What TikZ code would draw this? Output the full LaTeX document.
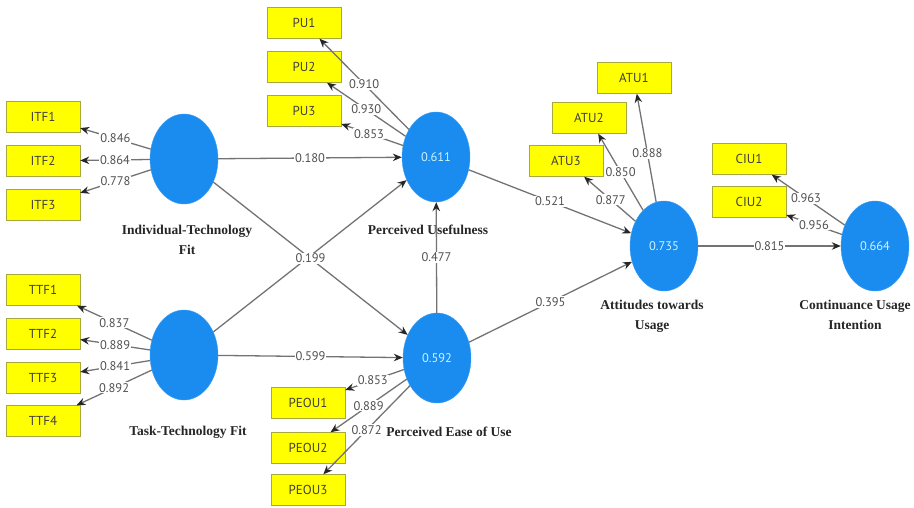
\documentclass[tikz,border=0pt]{standalone}
\usepackage{fontspec}
\setmainfont{Liberation Serif}
\newfontfamily\numfont{PT Sans}
\usetikzlibrary{arrows.meta,shapes.geometric}
\definecolor{lvblue}{HTML}{1A8CF0}
\definecolor{lvtext}{HTML}{CFF3FF}
\definecolor{mvyellow}{HTML}{FFFF00}
\definecolor{mvborder}{HTML}{A8A840}
\definecolor{pathgray}{HTML}{737373}
\definecolor{numgray}{HTML}{505050}
\tikzset{
    >={Stealth[length=9pt,width=7.5pt,color=black!85]},
    latent/.style={ellipse,fill=lvblue,draw=lvblue!85!white,minimum width=68pt,minimum height=90pt,
        inner sep=0pt,font=\numfont\fontsize{12.5}{13}\selectfont,text=lvtext},
    indicator/.style={rectangle,fill=mvyellow,draw=mvborder,minimum width=74pt,minimum height=31pt,
        inner sep=0pt,font=\numfont\fontsize{13}{14}\selectfont,text=black!75},
    construct/.style={font=\bfseries\fontsize{13.5}{20}\selectfont,align=center,text=black!85},
    link/.style={draw=pathgray,line width=1.3pt,->},
    coef/.style={fill=white,inner sep=1pt,font=\numfont\fontsize{12.5}{13}\selectfont,text=numgray}
}
\begin{document}
\begin{tikzpicture}[x=1pt,y=-1pt]
    \useasboundingbox (0,0) rectangle (914,507);
    % Latent variables
    \node[latent] (itf) at (184,159) {};
    \node[latent] (ttf) at (184,355) {};
    \node[latent] (pu) at (436,157) {0.611};
    \node[latent] (peou) at (437,358) {0.592};
    \node[latent] (atu) at (664,246) {0.735};
    \node[latent] (ciu) at (875,246) {0.664};

    % Construct names
    \node[construct] (itfname) at (187,240) {Individual-Technology\\Fit};
    \node[construct] (ttfname) at (188,432) {Task-Technology Fit};
    \node[construct] (puname) at (428,230) {Perceived Usefulness};
    \node[construct] (peouname) at (449,432) {Perceived Ease of Use};
    \node[construct] (atuname) at (652,316) {Attitudes towards\\Usage};
    \node[construct] (ciuname) at (855,315) {Continuance Usage\\Intention};

    % Indicators
    \node[indicator] (itf1) at (43,117) {ITF1};
    \node[indicator] (itf2) at (43,161) {ITF2};
    \node[indicator] (itf3) at (43,205) {ITF3};
    \node[indicator] (ttf1) at (43,290) {TTF1};
    \node[indicator] (ttf2) at (43,334) {TTF2};
    \node[indicator] (ttf3) at (43,378) {TTF3};
    \node[indicator] (ttf4) at (43,421) {TTF4};
    \node[indicator] (pu1) at (304,23) {PU1};
    \node[indicator] (pu2) at (304,67) {PU2};
    \node[indicator] (pu3) at (304,111) {PU3};
    \node[indicator] (peou1) at (308,403) {PEOU1};
    \node[indicator] (peou2) at (308,448) {PEOU2};
    \node[indicator] (peou3) at (308,490) {PEOU3};
    \node[indicator] (atu1) at (634,78) {ATU1};
    \node[indicator] (atu2) at (589,118) {ATU2};
    \node[indicator] (atu3) at (566,161) {ATU3};
    \node[indicator] (ciu1) at (749,159) {CIU1};
    \node[indicator] (ciu2) at (749,202) {CIU2};

    % Outer loadings
    \draw[link] (itf) -- node[coef] {0.846} (itf1);
    \draw[link] (itf) -- node[coef] {0.864} (itf2);
    \draw[link] (itf) -- node[coef] {0.778} (itf3);
    \draw[link] (ttf) -- node[coef] {0.837} (ttf1);
    \draw[link] (ttf) -- node[coef] {0.889} (ttf2);
    \draw[link] (ttf) -- node[coef] {0.841} (ttf3);
    \draw[link] (ttf) -- node[coef] {0.892} (ttf4);
    \draw[link] (pu) -- node[coef] {0.910} (pu1);
    \draw[link] (pu) -- node[coef] {0.930} (pu2);
    \draw[link] (pu) -- node[coef,pos=0.55] {0.853} (pu3);
    \draw[link] (peou) -- node[coef,pos=0.53] {0.853} (peou1);
    \draw[link] (peou) -- node[coef] {0.889} (peou2);
    \draw[link] (peou) -- node[coef] {0.872} (peou3);
    \draw[link] (atu) -- node[coef,pos=0.45] {0.888} (atu1);
    \draw[link] (atu) -- node[coef] {0.850} (atu2);
    \draw[link] (atu) -- node[coef,pos=0.48] {0.877} (atu3);
    \draw[link] (ciu) -- node[coef,pos=0.53] {0.963} (ciu1);
    \draw[link] (ciu) -- node[coef] {0.956} (ciu2);

    % Path coefficients
    \draw[link] (itf) -- node[coef] {0.180} (pu);
    \draw[link] (ttf) -- (pu);
    \draw[link] (itf) -- node[coef] {0.199} (peou);
    \draw[link] (ttf) -- node[coef] {0.599} (peou);
    \draw[link] (peou) -- node[coef] {0.477} (pu);
    \draw[link] (pu) -- node[coef] {0.521} (atu);
    \draw[link] (peou) -- node[coef] {0.395} (atu);
    \draw[link] (atu) -- node[coef] {0.815} (ciu);
\end{tikzpicture}
\end{document}
